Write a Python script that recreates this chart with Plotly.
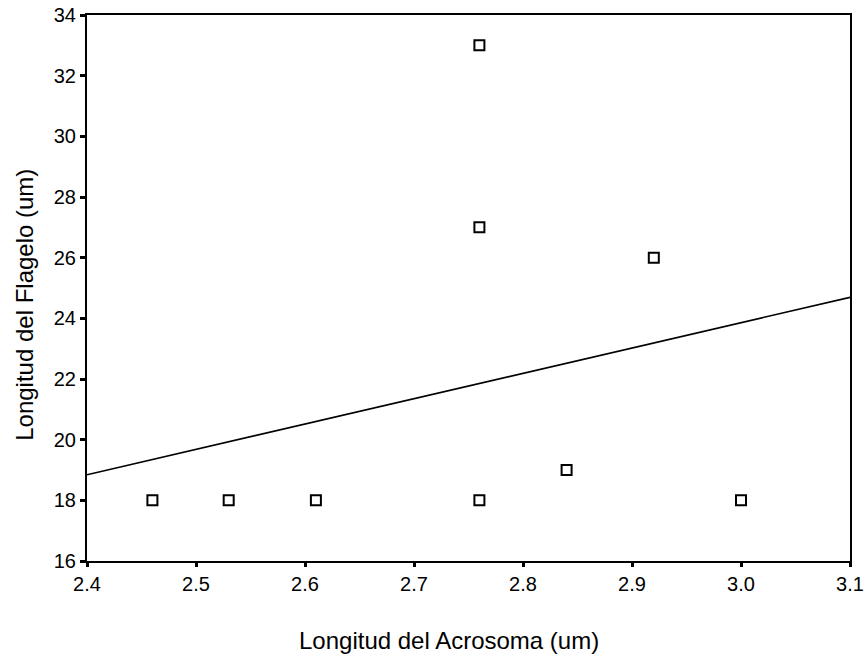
import numpy as np
import plotly.graph_objects as go

acrosoma = [2.46, 2.53, 2.61, 2.76, 2.76, 2.76, 2.84, 2.92, 3.00]
flagelo = [18, 18, 18, 33, 27, 18, 19, 26, 18]
x_ticks = [2.4, 2.5, 2.6, 2.7, 2.8, 2.9, 3.0, 3.1]
x_tick_labels = ["2.4", "2.5", "2.6", "2.7", "2.8", "2.9", "3.0", "3.1"]
y_ticks = [16, 18, 20, 22, 24, 26, 28, 30, 32, 34]
x_title = "Longitud del Acrosoma (um)"
y_title = "Longitud del Flagelo (um)"

slope, intercept = np.polyfit(acrosoma, flagelo, 1)
fit_x = [x_ticks[0], x_ticks[-1]]
fit_y = [slope * v + intercept for v in fit_x]

fig = go.Figure()
fig.add_trace(go.Scatter(x=fit_x, y=fit_y, mode="lines",
                         line=dict(color="black", width=1.6), showlegend=False))
fig.add_trace(go.Scatter(x=acrosoma, y=flagelo, mode="markers",
                         marker=dict(symbol="square-open", size=10, color="black",
                                     line=dict(width=2, color="black")),
                         showlegend=False))

font = "Liberation Sans, Arial, sans-serif"
fig.update_layout(
    width=868, height=659,
    margin=dict(l=87, r=4, t=14, b=98),
    paper_bgcolor="white", plot_bgcolor="white",
    font=dict(family=font, size=20, color="black"),
    xaxis=dict(range=[2.4, 3.1], tickvals=x_ticks, ticktext=x_tick_labels,
               showgrid=False, zeroline=False, showline=True, linecolor="black",
               linewidth=2, mirror=True, ticks="outside", ticklen=4, tickwidth=3,
               tickcolor="black", tickfont=dict(size=20), ticklabeloverflow="allow"),
    yaxis=dict(range=[16, 34], tickvals=y_ticks,
               showgrid=False, zeroline=False, showline=True, linecolor="black",
               linewidth=2, mirror=True, ticks="outside", ticklen=5, tickwidth=3,
               tickcolor="black", tickfont=dict(size=20), ticklabeloverflow="allow"),
    annotations=[
        dict(text=x_title, xref="paper", yref="paper", x=0.475, y=-0.145,
             xanchor="center", yanchor="middle", showarrow=False,
             font=dict(size=24, family=font)),
        dict(text=y_title, xref="paper", yref="paper", x=-0.082, y=0.47,
             xanchor="center", yanchor="middle", showarrow=False, textangle=-90,
             font=dict(size=24, family=font)),
    ],
)

fig.write_html("out.html", config={"displayModeBar": False},
               post_script="document.body.style.margin='0';document.body.style.overflow='hidden';")
